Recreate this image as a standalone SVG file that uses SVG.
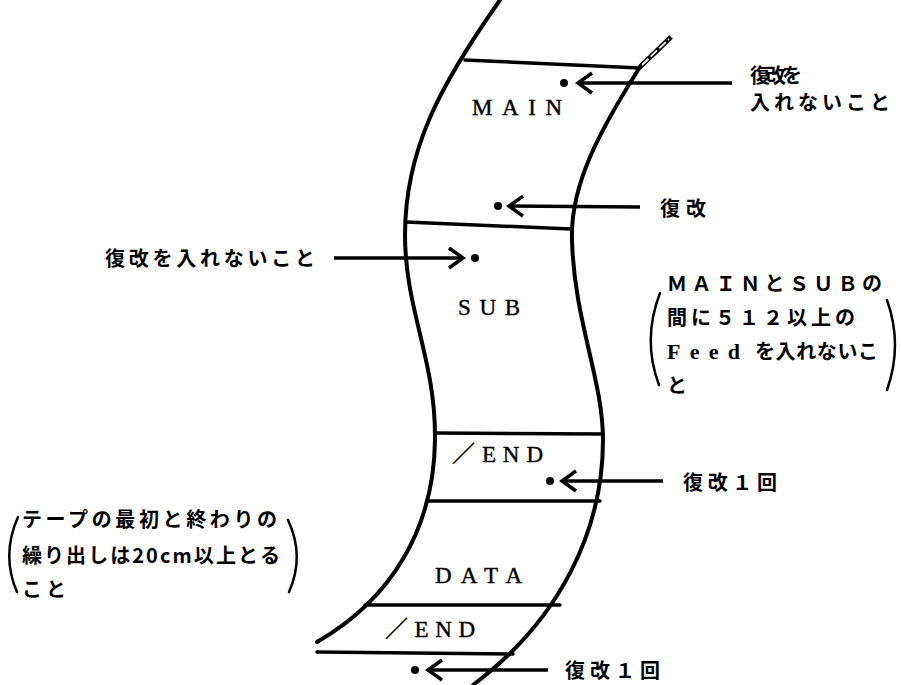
<svg xmlns="http://www.w3.org/2000/svg" width="901" height="685" viewBox="0 0 901 685">
<defs>
<style>
.edge{fill:none;stroke:#000;stroke-width:4;stroke-linecap:round}
.band{fill:none;stroke:#000;stroke-width:3.5;stroke-linecap:round}
.arr{fill:none;stroke:#000;stroke-width:3.5}
.paren{fill:none;stroke:#000;stroke-width:2.5;stroke-linecap:round}
.seg{font-family:"Liberation Serif","Noto Sans CJK JP",serif;font-size:23px;fill:#000;stroke:#000;stroke-width:0.4}
.jp{font-family:"Noto Sans CJK JP",sans-serif;font-size:20px;font-weight:bold;fill:#000}
.lat{font-family:"Liberation Serif",serif;font-size:22px;font-weight:bold;fill:#000}
</style>
<marker id="ah" markerUnits="userSpaceOnUse" markerWidth="30" markerHeight="30" refX="0" refY="0" orient="auto" overflow="visible">
<path d="M-14,-10 L0,0 L-14,10" fill="none" stroke="#000" stroke-width="3.5"/>
</marker>
</defs>
<rect width="901" height="685" fill="#fff"/>

<g id="tape">
<path class="edge" d="M500,0 C440,85 405,150 405,235 C405,310 436,360 435,440 C434,530 390,600 317,642"/>
<path class="edge" d="M640,67 C600,130 570,185 572,240 C574,320 603,380 603,440 C603,530 560,620 473,685"/>
<path d="M640,67 L671,37" stroke="#000" stroke-width="5" fill="none"/>
<path d="M642,65 L669,39" stroke="#fff" stroke-width="1.8" stroke-dasharray="9 3" fill="none"/>
<path class="band" d="M465,60 L640,68"/>
<path class="band" d="M406,222 L571,229"/>
<path class="band" d="M435,433 L603,434"/>
<path class="band" d="M428,501 L600,501"/>
<path class="band" d="M365,605 L560,605"/>
<path class="band" d="M317,652 L513,654"/>
</g>

<g id="main"><text class="seg" x="472" y="115" textLength="90" lengthAdjust="spacing">MAIN</text></g>
<g id="sub"><text class="seg" x="458" y="315" textLength="62" lengthAdjust="spacing">SUB</text></g>
<g id="end1"><text class="seg" x="452" y="462" textLength="91" lengthAdjust="spacing">／END</text></g>
<g id="data"><text class="seg" x="435" y="583" textLength="87" lengthAdjust="spacing">DATA</text></g>
<g id="end2"><text class="seg" x="385" y="637" textLength="90" lengthAdjust="spacing">／END</text></g>

<g id="connectors">
<line class="arr" x1="732" y1="83" x2="578" y2="83" marker-end="url(#ah)"/>
<circle cx="564" cy="83" r="4"/>
<line class="arr" x1="640" y1="207" x2="509" y2="206" marker-end="url(#ah)"/>
<circle cx="498" cy="206" r="4"/>
<line class="arr" x1="334" y1="258" x2="463" y2="258" marker-end="url(#ah)"/>
<circle cx="475" cy="258" r="4"/>
<line class="arr" x1="663" y1="481" x2="562" y2="481" marker-end="url(#ah)"/>
<circle cx="550" cy="481" r="4"/>
<line class="arr" x1="548" y1="670" x2="428" y2="670" marker-end="url(#ah)"/>
<circle cx="415" cy="670" r="4"/>
</g>

<g id="note-main">
<text class="jp" x="750" y="83" textLength="52" lengthAdjust="spacing">復改を</text>
<text class="jp" x="750" y="110" textLength="140" lengthAdjust="spacing">入れないこと</text>
</g>
<g id="note-fukkai"><text class="jp" x="660" y="216" textLength="46" lengthAdjust="spacing">復改</text></g>
<g id="note-sub"><text class="jp" x="105" y="266" textLength="210" lengthAdjust="spacing">復改を入れないこと</text></g>
<g id="note-end1"><text class="jp" x="683" y="490" textLength="94" lengthAdjust="spacing">復改１回</text></g>
<g id="note-end2"><text class="jp" x="565" y="678" textLength="95" lengthAdjust="spacing">復改１回</text></g>

<g id="note-feed">
<path class="paren" d="M660,293 Q642,340 659,385"/>
<path class="paren" d="M887,300 Q903,345 887,390"/>
<text class="jp" x="667" y="291" textLength="215" lengthAdjust="spacing">ＭＡＩＮとＳＵＢの</text>
<text class="jp" x="667" y="325" textLength="188" lengthAdjust="spacing">間に５１２以上の</text>
<text class="lat" x="667" y="359" textLength="73" lengthAdjust="spacing">Feed</text>
<text class="jp" x="755" y="359" textLength="123" lengthAdjust="spacing">を入れないこ</text>
<text class="jp" x="667" y="393">と</text>
</g>

<g id="note-leader">
<path class="paren" d="M18,517 Q1,555 17,592"/>
<path class="paren" d="M288,520 Q305,556 289,592"/>
<text class="jp" x="22" y="527" textLength="255" lengthAdjust="spacing">テープの最初と終わりの</text>
<text class="jp" x="22" y="563" textLength="258" lengthAdjust="spacing">繰り出しは20cm以上とる</text>
<text class="jp" x="22" y="597" textLength="44" lengthAdjust="spacing">こと</text>
</g>
</svg>
